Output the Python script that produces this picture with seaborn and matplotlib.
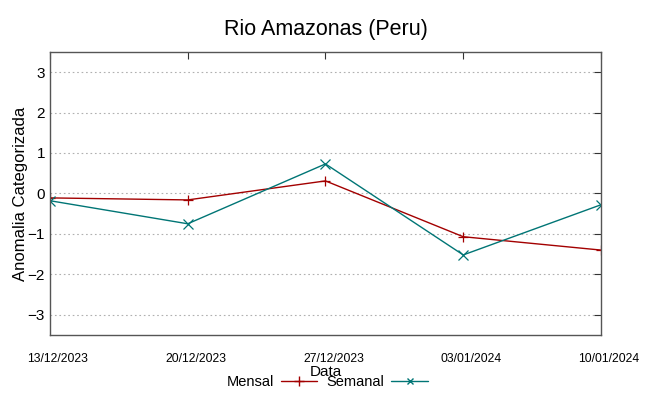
import pandas as pd
import seaborn as sns
import matplotlib.pyplot as plt
import matplotlib.dates as mdates
from matplotlib.transforms import ScaledTranslation

datas = ["13/12/2023", "20/12/2023", "27/12/2023", "03/01/2024", "10/01/2024"]
mensal = [-0.11, -0.16, 0.31, -1.07, -1.40]
semanal = [-0.18, -0.75, 0.73, -1.52, -0.28]

dias = pd.to_datetime(datas, format="%d/%m/%Y")
df = pd.DataFrame({
    "Data": list(dias) * 2,
    "valor": mensal + semanal,
    "serie": ["Mensal"] * len(mensal) + ["Semanal"] * len(semanal),
})

sns.set_style("white")
plt.rcParams["font.family"] = ["Liberation Sans", "DejaVu Sans"]
plt.rcParams["text.color"] = "black"
plt.rcParams["axes.labelcolor"] = "black"

cores = {"Mensal": "#a30000", "Semanal": "#007575"}

fig = plt.figure(figsize=(6.49, 3.96), dpi=100)
ax = fig.add_axes([0.077, 0.154, 0.849, 0.715])

sns.lineplot(
    data=df, x="Data", y="valor", hue="serie", style="serie",
    palette=cores, markers={"Mensal": "+", "Semanal": "x"}, dashes=False,
    markersize=7, markeredgewidth=0.9, linewidth=1.0, legend=False, ax=ax,
)
# seaborn paints line-art markers white; give them the line colour
for ln in ax.lines:
    ln.set_markeredgecolor(ln.get_color())

ax.set_xlim(dias[0], dias[-1])
ax.set_ylim(-3.5, 3.5)
ax.set_yticks(range(-3, 4))
ax.set_xticks(dias)
ax.xaxis.set_major_formatter(mdates.DateFormatter("%d/%m/%Y"))
ax.yaxis.grid(True, linestyle=(0, (1.5, 2.5)), color="#b0b0b0", linewidth=0.8)
ax.xaxis.grid(False)
ax.tick_params(axis="y", labelsize=11, direction="in", length=5, right=True,
               color="#333333", labelcolor="black")
ax.tick_params(axis="x", labelsize=8.7, direction="in", length=5, top=True, pad=13,
               color="#333333", labelcolor="black")
for s in ax.spines.values():
    s.set_color("#555555")
    s.set_linewidth(1.0)

ax.set_title("Rio Amazonas (Peru)", fontsize=15.5, pad=12)
ax.set_ylabel("Anomalia Categorizada", fontsize=12, labelpad=0)
ax.set_xlabel("Data", fontsize=11, labelpad=0)

handles = [
    plt.Line2D([], [], color=cores["Mensal"], marker="+", markersize=7, linewidth=1.0),
    plt.Line2D([], [], color=cores["Semanal"], marker="x", markersize=5, linewidth=1.0),
]
fig.legend(handles, ["Mensal", "Semanal"], loc="center", bbox_to_anchor=(0.504, 0.035),
           ncol=2, frameon=False, markerfirst=False, fontsize=10.5, handlelength=2.5,
           columnspacing=0.6, handletextpad=0.5, borderpad=0)

# date labels sit a little to the right of their ticks
desloc = ScaledTranslation(8 / 100, 0, fig.dpi_scale_trans)
for lbl in ax.get_xticklabels():
    lbl.set_transform(lbl.get_transform() + desloc)

fig.savefig("out.png", dpi=100)
